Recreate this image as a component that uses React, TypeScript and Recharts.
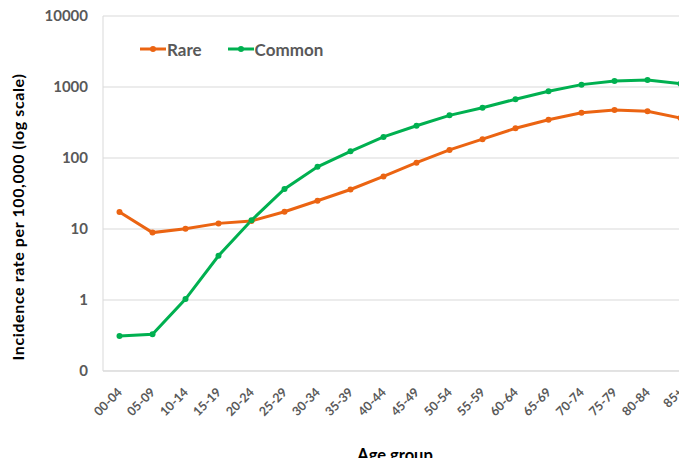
import React from "react";
import {
  LineChart,
  Line,
  XAxis,
  YAxis,
  CartesianGrid,
  Legend,
  Label,
} from "recharts";

const ageGroups = [
  "00-04", "05-09", "10-14", "15-19", "20-24", "25-29", "30-34", "35-39", "40-44",
  "45-49", "50-54", "55-59", "60-64", "65-69", "70-74", "75-79", "80-84", "85+",
];

// incidence per 100,000
const rareRates = [17.3, 8.9, 10.1, 12.0, 13.0, 17.5, 25, 36, 55, 86, 130, 184, 262, 346, 434, 474, 454, 366];
const commonRates = [0.31, 0.33, 1.03, 4.2, 13.3, 36.6, 75, 124, 198, 285, 399, 511, 672, 869, 1080, 1217, 1256, 1113];

const seriesNames = ["Rare", "Common"];
const yTicks = [0.1, 1, 10, 100, 1000, 10000];

const RARE_COLOR = "#EB6412";
const COMMON_COLOR = "#00B050";
const FONT = "Lato, 'Open Sans', sans-serif";
const TICK_COLOR = "#595959";
const GRID_COLOR = "#D9D9D9";

const data = ageGroups.map((name, i) => ({
  name,
  rare: rareRates[i],
  common: commonRates[i],
}));

const AgeTick = (props: any) => {
  const { x, y, payload } = props;
  const tx = x + 3.5;
  const ty = y + 22;
  return (
    <text
      x={tx}
      y={ty}
      textAnchor="end"
      transform={`rotate(-45 ${tx} ${ty})`}
      fontFamily={FONT}
      fontWeight={700}
      fontSize={12.5}
      fill={TICK_COLOR}
    >
      {payload.value}
    </text>
  );
};

const LegendContent = (props: any) => {
  const items = [...(props.payload || [])].sort(
    (a: any, b: any) => seriesNames.indexOf(a.value) - seriesNames.indexOf(b.value)
  );
  return (
    <div style={{ display: "flex", alignItems: "center", height: 20 }}>
      {items.map((entry: any) => (
        <div
          key={entry.value}
          style={{ display: "flex", alignItems: "center", marginRight: 26 }}
        >
          <svg width={26} height={10}>
            <line x1={0} y1={5} x2={26} y2={5} stroke={entry.color} strokeWidth={3} />
            <circle cx={13} cy={5} r={3} fill={entry.color} />
          </svg>
          <span
            style={{
              fontFamily: FONT,
              fontWeight: 700,
              fontSize: 17,
              color: TICK_COLOR,
              marginLeft: 1,
              whiteSpace: "nowrap",
            }}
          >
            {entry.value}
          </span>
        </div>
      ))}
    </div>
  );
};

export default function App() {
  return (
    <div style={{ margin: -8, width: 687, height: 466, overflow: "hidden", background: "#fff" }}>
      <LineChart
        width={700}
        height={466}
        data={data}
        margin={{ top: 16, right: 3, bottom: 0, left: 0 }}
      >
        <CartesianGrid vertical={false} stroke={GRID_COLOR} />
        <XAxis
          dataKey="name"
          interval={0}
          height={95}
          padding={{ left: 16.5, right: 16.5 }}
          tickLine={false}
          tickSize={0}
          tickMargin={0}
          axisLine={{ stroke: GRID_COLOR }}
          tick={<AgeTick />}
        >
          <Label
            content={() => (
              <text
                x={395}
                y={461}
                textAnchor="middle"
                fontFamily={FONT}
                fontWeight={700}
                fontSize={16.5}
                fill="#000"
              >
                Age group
              </text>
            )}
          />
        </XAxis>
        <YAxis
          scale="log"
          domain={[0.1, 10000]}
          ticks={yTicks}
          allowDataOverflow
          width={103}
          tickLine={false}
          tickSize={0}
          tickMargin={15}
          axisLine={{ stroke: GRID_COLOR }}
          tickFormatter={(v: number) => (v < 1 ? "0" : String(v))}
          tick={{ fontFamily: FONT, fontWeight: 700, fontSize: 15, fill: TICK_COLOR }}
        >
          <Label
            content={() => (
              <text
                x={24}
                y={217}
                textAnchor="middle"
                transform="rotate(-90 24 217)"
                fontFamily={FONT}
                fontWeight={700}
                fontSize={16}
                letterSpacing={0.6}
                fill="#000"
              >
                Incidence rate per 100,000 (log scale)
              </text>
            )}
          />
        </YAxis>
        <Legend
          layout="vertical"
          align="center"
          verticalAlign="middle"
          content={<LegendContent />}
          wrapperStyle={{ top: 39, left: 140, width: 260, height: 20 }}
        />
        <Line
          type="linear"
          dataKey="rare"
          name="Rare"
          stroke={RARE_COLOR}
          strokeWidth={3}
          dot={{ r: 3, fill: RARE_COLOR, stroke: RARE_COLOR, strokeWidth: 0 }}
          activeDot={false}
          isAnimationActive={false}
        />
        <Line
          type="linear"
          dataKey="common"
          name="Common"
          stroke={COMMON_COLOR}
          strokeWidth={3}
          dot={{ r: 3, fill: COMMON_COLOR, stroke: COMMON_COLOR, strokeWidth: 0 }}
          activeDot={false}
          isAnimationActive={false}
        />
      </LineChart>
    </div>
  );
}
